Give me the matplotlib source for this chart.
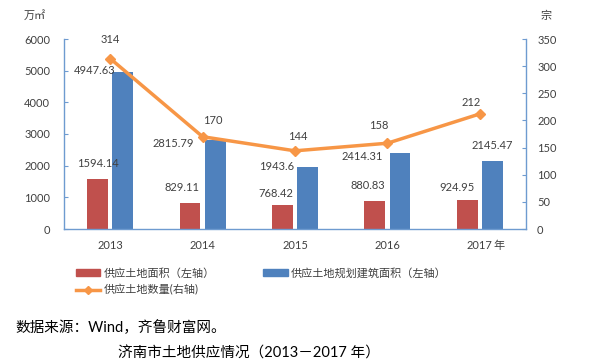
import matplotlib
matplotlib.use("Agg")
import matplotlib.pyplot as plt
from matplotlib.lines import Line2D
from matplotlib.patches import Patch
import numpy as np

plt.rcParams['font.family'] = ['Lato', 'Noto Sans CJK SC', 'DejaVu Sans']

years = ['2013', '2014', '2015', '2016', '2017']
land_area = [1594.14, 829.11, 768.42, 880.83, 924.95]
build_area = [4947.63, 2815.79, 1943.6, 2414.31, 2145.47]
land_count = [314, 170, 144, 158, 212]
land_area_labels = ['1594.14', '829.11', '768.42', '880.83', '924.95']
build_area_labels = ['4947.63', '2815.79', '1943.6', '2414.31', '2145.47']
count_labels = ['314', '170', '144', '158', '212']

left_ticks = [0, 1000, 2000, 3000, 4000, 5000, 6000]
right_ticks = [0, 50, 100, 150, 200, 250, 300, 350]

RED = '#C0504D'
BLUE = '#4F81BD'
ORANGE = '#F79646'
AXC = '#6E9BD0'
TXT = '#404040'

# label offsets in points (style only)
red_off = [(0, 11), (-6, 11), (-5, 8), (-5, 11), (-7, 9)]
blue_off = [(-20, 1), (-30, -3), (-22, 1), (-27, -3), (0, 11)]
line_off = [(0, 14), (7, 12), (2, 10), (-6, 13), (-6, 8)]

fig = plt.figure(figsize=(5.9, 3.64), dpi=100)
ax = fig.add_axes([64/590, 1-229/364, (526-64)/590, (229-39)/364])
ax2 = ax.twinx()

x = np.arange(len(years))
w = 0.225
off = 0.137
ax.bar(x - off, land_area, w, color=RED, zorder=2)
ax.bar(x + off, build_area, w, color=BLUE, zorder=2)
ax.set_xlim(-0.5, len(years) - 0.5)
ax.set_ylim(0, 6000)
ax.set_yticks(left_ticks)
ax.set_yticklabels([str(t) for t in left_ticks])
ax.set_xticks(x)
ax.set_xticklabels(years)

ax2.plot(x, land_count, color=ORANGE, lw=2.5, marker='D', ms=5, zorder=3)
ax2.set_ylim(0, 350)
ax2.set_yticks(right_ticks)
ax2.set_yticklabels([str(t) for t in right_ticks])
ax.set_zorder(1)
ax2.set_zorder(2)
ax.patch.set_visible(False)

for a in (ax, ax2):
    a.spines['top'].set_visible(False)
    for s in ('left', 'right', 'bottom'):
        a.spines[s].set_color(AXC)
        a.spines[s].set_linewidth(1.0)
ax.spines['right'].set_visible(False)
ax2.spines['left'].set_visible(False)
ax2.spines['bottom'].set_visible(False)

ax.tick_params(axis='y', direction='in', length=3, color=AXC, labelsize=8, labelcolor=TXT, pad=10)
ax.tick_params(axis='x', length=0, labelsize=8, labelcolor=TXT, pad=8)
ax2.tick_params(axis='y', direction='in', length=3, color=AXC, labelsize=8, labelcolor=TXT, pad=8)

for i in range(len(years)):
    ax.annotate(land_area_labels[i], (x[i] - off, land_area[i]), xytext=red_off[i],
                textcoords='offset points', ha='center', va='center', fontsize=8, color=TXT)
    ax.annotate(build_area_labels[i], (x[i] + off, build_area[i]), xytext=blue_off[i],
                textcoords='offset points', ha='center', va='center', fontsize=8, color=TXT)
    ax2.annotate(count_labels[i], (x[i], land_count[i]), xytext=line_off[i],
                 textcoords='offset points', ha='center', va='center', fontsize=8, color=TXT)

fig.text(24/590, 1-15/364, '万㎡', fontsize=8, color=TXT, va='center', ha='left')
fig.text(546/590, 1-15/364, '宗', fontsize=8, color=TXT, va='center', ha='center')
fig.text(493/590, 1-245/364, '年', fontsize=8, color=TXT, va='center', ha='left')

handles = [Patch(color=RED),
           Line2D([0], [0], color=ORANGE, lw=2.5, marker='D', ms=4),
           Patch(color=BLUE)]
labels = ['供应土地面积（左轴）', '供应土地数量(右轴)', '供应土地规划建筑面积（左轴）']
leg = fig.legend(handles, labels, loc='upper left', bbox_to_anchor=(70/590, 1-262/364),
                 ncol=2, frameon=False, fontsize=8, handlelength=2.2, handleheight=0.55,
                 handletextpad=0.3, columnspacing=4.4, labelspacing=0.5, borderpad=0)
for t in leg.get_texts():
    t.set_color(TXT)

fig.text(15/590, 1-328/364, '数据来源：Wind，齐鲁财富网。', fontsize=10.5, color='black', va='center', ha='left')
fig.text(118/590, 1-354/364, '济南市土地供应情况（2013－2017 年）', fontsize=10.5, color='black', va='center', ha='left')

fig.savefig('out.png', dpi=100)
